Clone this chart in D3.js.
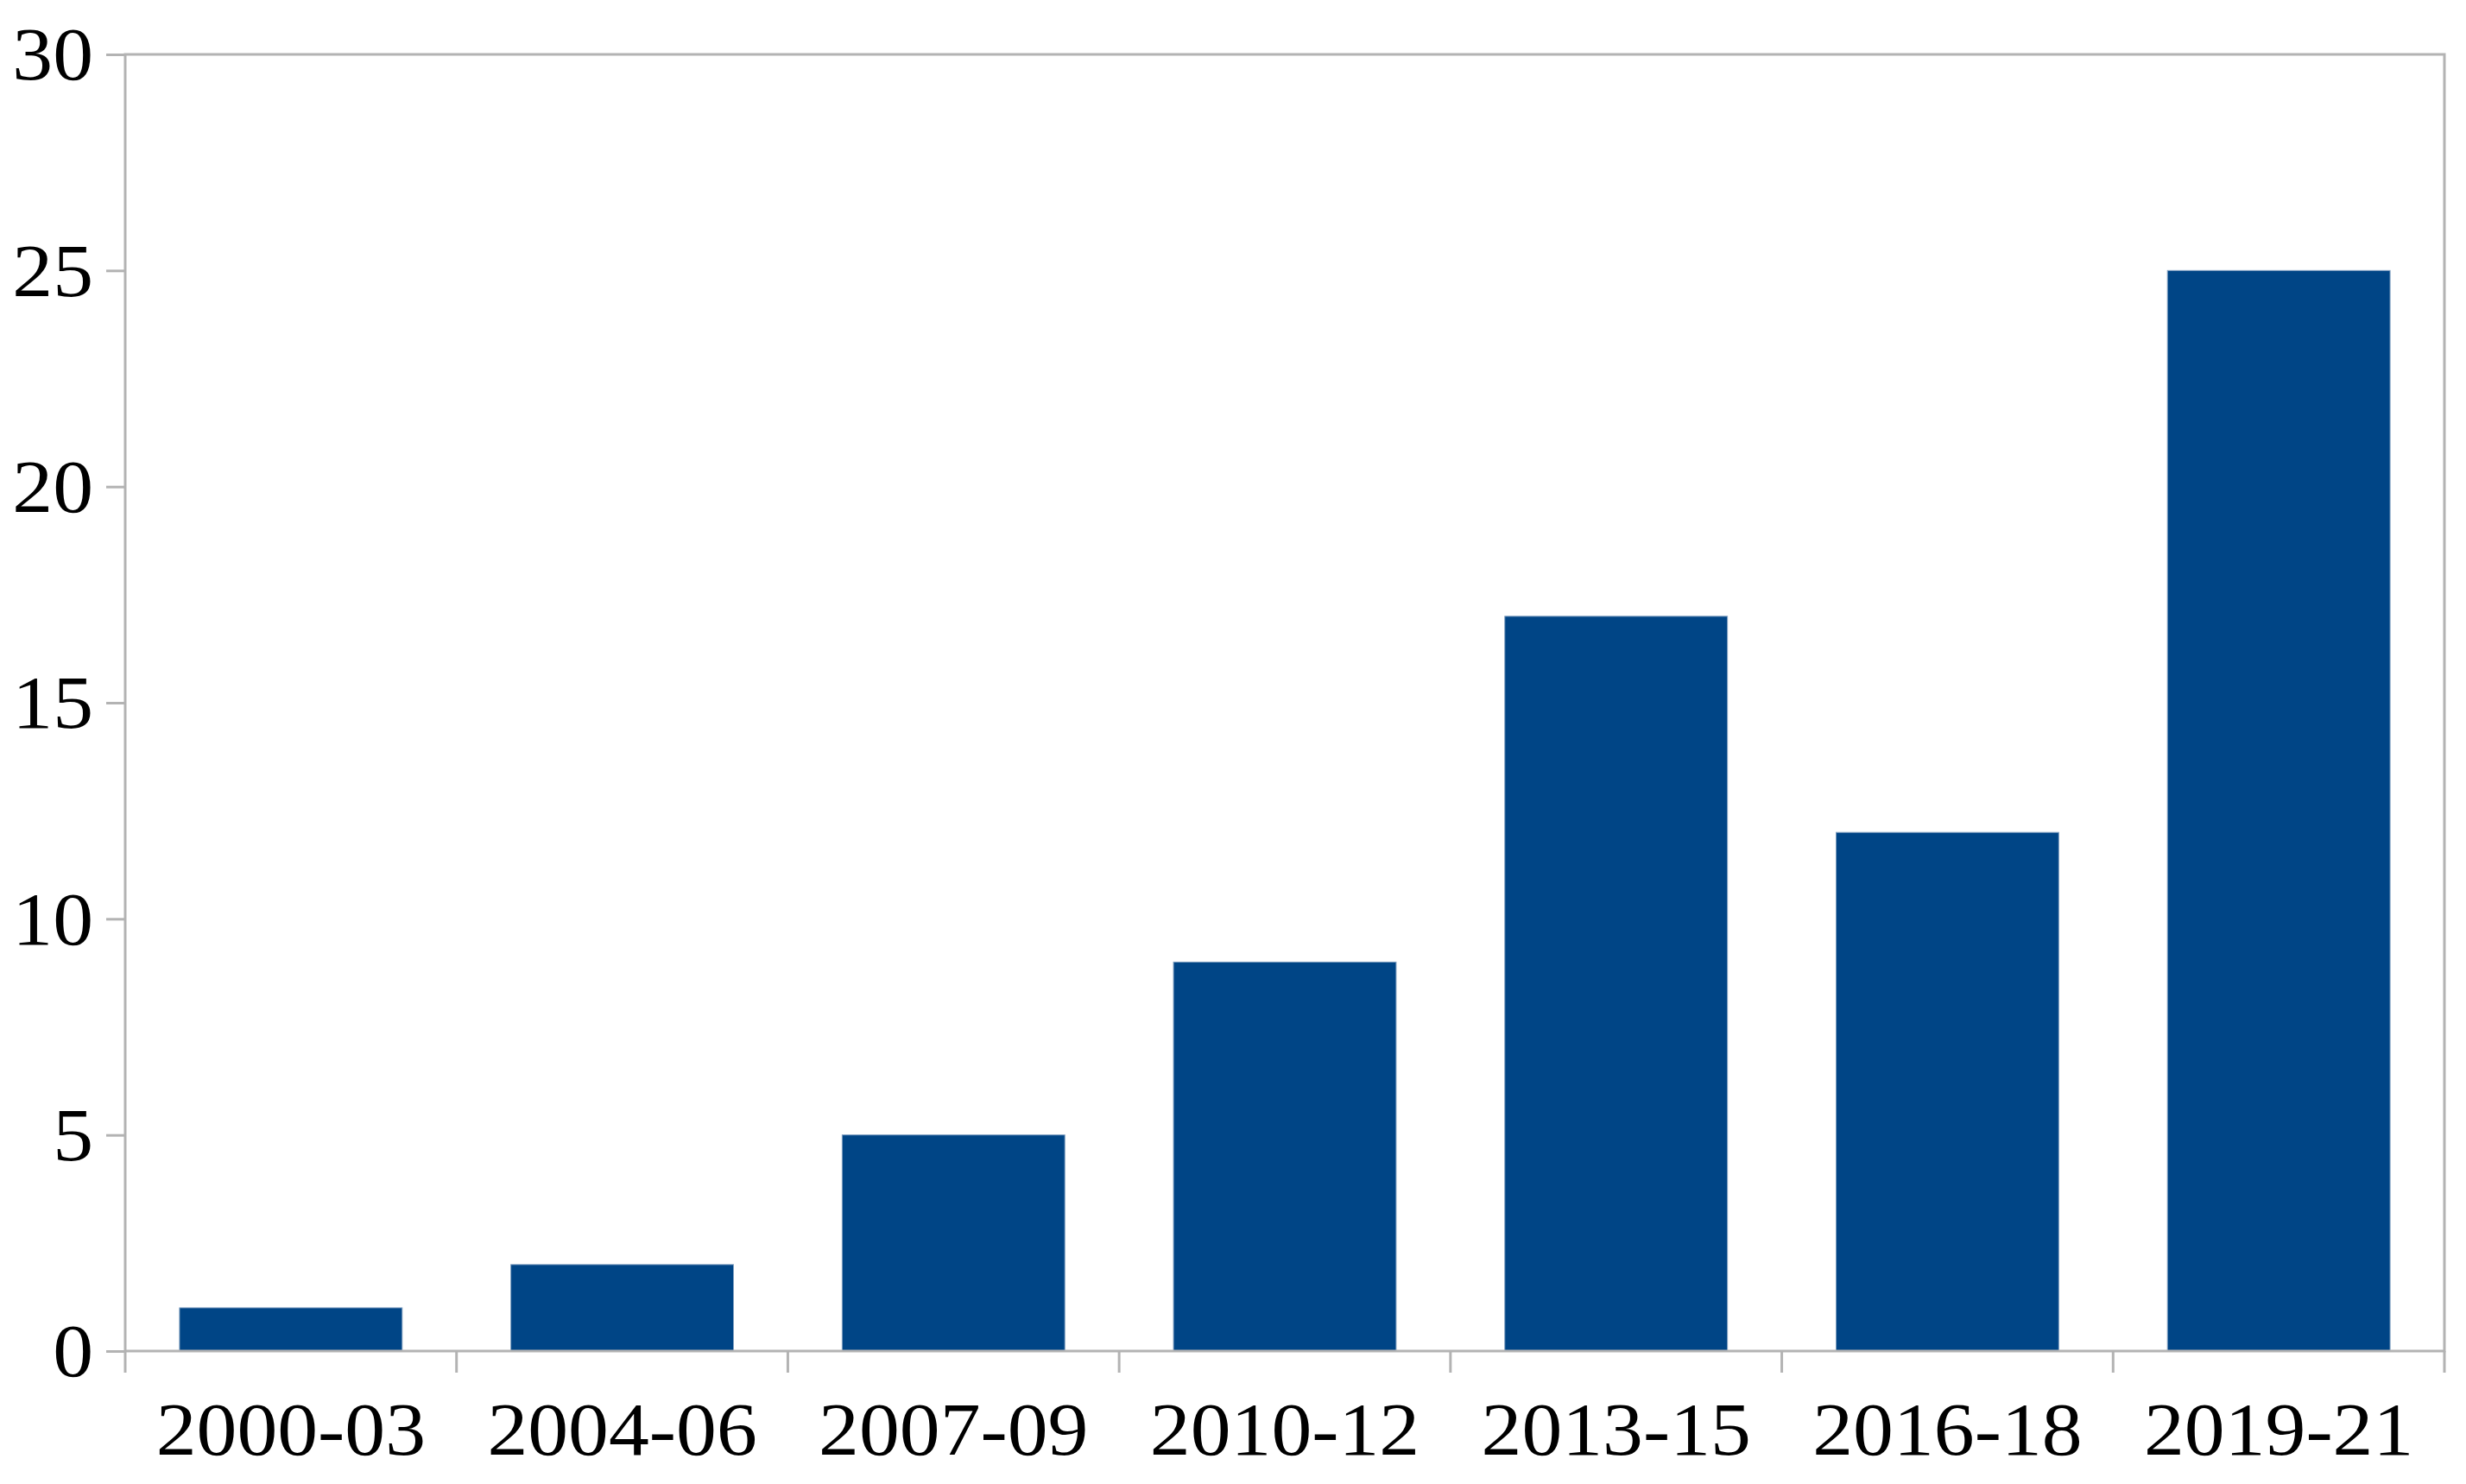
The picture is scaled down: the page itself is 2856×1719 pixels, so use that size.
<!DOCTYPE html>
<html>
<head>
<meta charset="utf-8">
<script src="https://cdn.jsdelivr.net/npm/d3@7"></script>
<style>
  body { margin: 0; background: #fff; }
  text { font-family: "Liberation Serif", "Times New Roman", serif; fill: #000; }
</style>
</head>
<body>
<svg id="chart" width="2856" height="1719"></svg>
<script>
var periods = ["2000-03", "2004-06", "2007-09", "2010-12", "2013-15", "2016-18", "2019-21"],
    counts = [1, 2, 5, 9, 17, 12, 25],
    yTicks = [0, 5, 10, 15, 20, 25, 30];

var svg = d3.select("#chart"),
    margin = {top: 63, right: 25, bottom: 154, left: 145},
    width = +svg.attr("width") - margin.left - margin.right,
    height = +svg.attr("height") - margin.top - margin.bottom;

var axisColor = "#b3b3b3",
    fontSize = 86,
    stretch = "scale(1.09,1)";

var x = d3.scaleBand().domain(periods).range([0, width]).paddingInner(0.328).paddingOuter(0.164),
    y = d3.scaleLinear().domain([0, 30]).range([height, 0]);

var g = svg.append("g")
    .attr("transform", "translate(" + margin.left + "," + margin.top + ")");

// bars
g.selectAll(".bar")
    .data(counts)
  .enter().append("rect")
    .attr("class", "bar")
    .attr("x", function(d, i) { return x(periods[i]); })
    .attr("width", x.bandwidth())
    .attr("y", function(d) { return y(d); })
    .attr("height", function(d) { return height - y(d); })
    .attr("fill", "#004586")
    .attr("stroke", "#7f9fc0")
    .attr("stroke-width", 1);

// frame
g.append("rect")
    .attr("x", 0).attr("y", 0)
    .attr("width", width).attr("height", height)
    .attr("fill", "none")
    .attr("stroke", axisColor)
    .attr("stroke-width", 3);

// y ticks
var yAxis = g.append("g")
    .call(d3.axisLeft(y).tickValues(yTicks).tickSize(22).tickFormat(""));
yAxis.select(".domain").remove();
yAxis.selectAll("line").attr("stroke", axisColor).attr("stroke-width", 3);

// y labels
g.selectAll(".ylabel")
    .data(yTicks)
  .enter().append("text")
    .attr("transform", function(d) { return "translate(-37," + y(d) + ") " + stretch; })
    .attr("text-anchor", "end")
    .attr("dy", "0.34em")
    .attr("font-size", fontSize)
    .text(function(d) { return d; });

// x ticks at category boundaries
var step = x.step(),
    bounds = periods.map(function(p) { return x(p) - step * x.paddingInner() / 2; });
bounds.push(width);
g.selectAll(".xtick")
    .data(bounds)
  .enter().append("line")
    .attr("x1", function(d) { return d; })
    .attr("x2", function(d) { return d; })
    .attr("y1", height)
    .attr("y2", height + 25)
    .attr("stroke", axisColor)
    .attr("stroke-width", 3);

// x labels
g.selectAll(".xlabel")
    .data(periods)
  .enter().append("text")
    .attr("transform", function(d) { return "translate(" + (x(d) + x.bandwidth() / 2) + "," + (height + 120) + ") " + stretch; })
    .attr("text-anchor", "middle")
    .attr("font-size", fontSize)
    .text(function(d) { return d; });
</script>
</body>
</html>
